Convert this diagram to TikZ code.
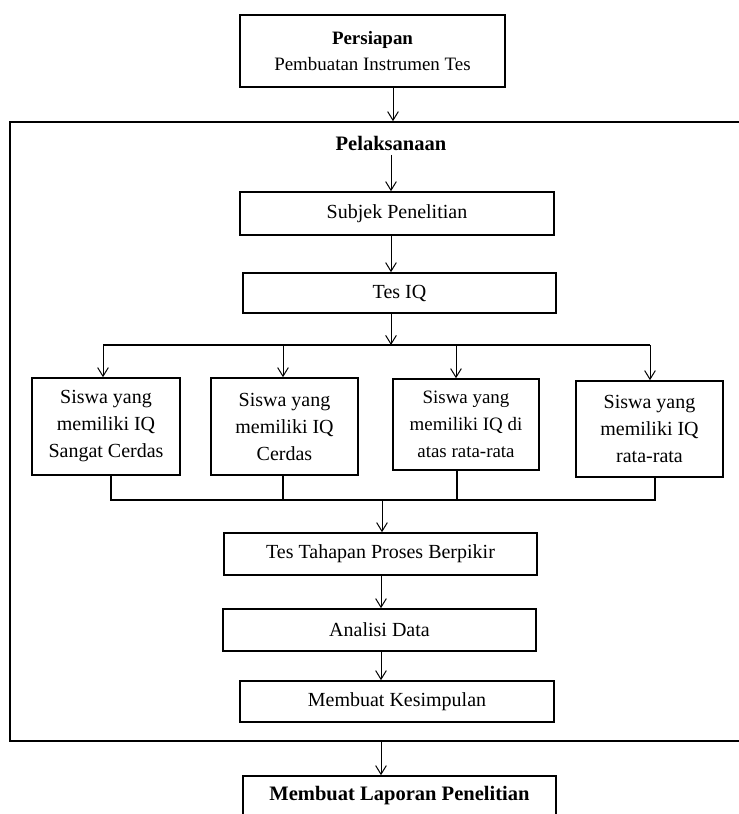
\documentclass[tikz,border=0pt]{standalone}
\usepackage{fontspec}
\setmainfont{Liberation Serif}
\usetikzlibrary{arrows.meta}
\begin{document}
\begin{tikzpicture}[x=0.75pt,y=-0.75pt,
  box/.style={draw, line width=1.2pt, inner sep=0pt, align=center},
  arr/.style={-{Straight Barb[length=6.5pt,width=8pt]}, line width=0.75pt},
  ln/.style={line width=0.9pt},
  txt/.style={font=\fontsize{15}{20.25}\selectfont},
  txs/.style={font=\fontsize{14.2}{20.25}\selectfont}]
\useasboundingbox (0,0) rectangle (739,814);
\clip (0,0) rectangle (739,814);
% top box
\node[box, minimum width=265*0.75pt, minimum height=72*0.75pt,
      font=\fontsize{14.2}{19.5}\selectfont] (top) at (372.5,51)
  {\textbf{Persiapan}\\Pembuatan Instrumen Tes};
% outer frame
\node[draw, line width=1.2pt, inner sep=0pt, minimum width=750*0.75pt,
      minimum height=619*0.75pt] (outer) at (385,431.5) {};
\node[font=\bfseries\fontsize{15.4}{18}\selectfont] (pel) at (391,143) {Pelaksanaan};
\node[box, txt, minimum width=314*0.75pt, minimum height=43*0.75pt] (subj) at (397,213.5) {Subjek Penelitian};
\node[box, txt, minimum width=313*0.75pt, minimum height=40*0.75pt] (iq) at (399.5,293) {Tes IQ};
% four groups
\node[box, txt, minimum width=148*0.75pt, minimum height=97*0.75pt] (b1) at (106,426.5) {Siswa yang\\memiliki IQ\\Sangat Cerdas};
\node[box, txt, minimum width=147*0.75pt, minimum height=97*0.75pt] (b2) at (284.5,426.5) {Siswa yang\\memiliki IQ\\Cerdas};
\node[box, txs, minimum width=146*0.75pt, minimum height=91*0.75pt] (b3) at (466,424.5) {Siswa yang\\memiliki IQ di\\atas rata-rata};
\node[box, txt, minimum width=147*0.75pt, minimum height=96*0.75pt] (b4) at (649.5,429) {Siswa yang\\memiliki IQ\\rata-rata};
% lower chain
\node[box, txt, minimum width=313*0.75pt, minimum height=42*0.75pt] (tahap) at (380.5,554) {Tes Tahapan Proses Berpikir};
\node[box, txt, minimum width=313*0.75pt, minimum height=42*0.75pt] (ana) at (379.5,630) {Analisi Data};
\node[box, txt, minimum width=314*0.75pt, minimum height=41*0.75pt] (kes) at (397,701.5) {Membuat Kesimpulan};
\node[box, font=\bfseries\fontsize{15.4}{18}\selectfont, minimum width=313*0.75pt, minimum height=40*0.75pt] (lap) at (399.5,796) {Membuat Laporan Penelitian};
% connectors
\draw[arr] (393,0 |- top.south) -- (393,0 |- outer.north);
\draw[arr] (391,0 |- pel.south) -- (391,0 |- subj.north);
\draw[arr] (391,0 |- subj.south) -- (391,0 |- iq.north);
\coordinate (bt) at (391,345);
\draw[arr] (bt |- iq.south) -- (bt);
\coordinate (bl) at (103,345);
\coordinate (c2) at (283,345);
\coordinate (c3) at (456,345);
\coordinate (br) at (650,345);
\draw[ln] (bl) -- (br);
\draw[arr] (bl) -- (bl |- b1.north);
\draw[arr] (c2) -- (c2 |- b2.north);
\draw[arr] (c3) -- (c3 |- b3.north);
\draw[arr] (br) -- (br |- b4.north);
\coordinate (dl) at (111,500);
\coordinate (d2) at (283,500);
\coordinate (d3) at (457,500);
\coordinate (dr) at (655,500);
\coordinate (dm) at (382,500);
\draw[ln] (dl |- b1.south) -- (dl) -- (dr) -- (dr |- b4.south);
\draw[ln] (d2 |- b2.south) -- (d2);
\draw[ln] (d3 |- b3.south) -- (d3);
\draw[arr] (dm) -- (dm |- tahap.north);
\draw[arr] (381,0 |- tahap.south) -- (381,0 |- ana.north);
\draw[arr] (381,0 |- ana.south) -- (381,0 |- kes.north);
\draw[arr] (381,0 |- outer.south) -- (381,0 |- lap.north);
\end{tikzpicture}
\end{document}
